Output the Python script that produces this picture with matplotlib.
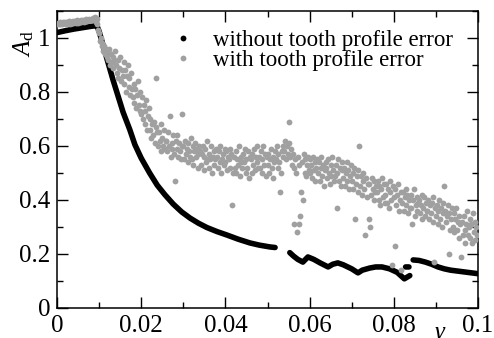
import numpy as np
import matplotlib
matplotlib.use('Agg')
from matplotlib import pyplot as plt
from matplotlib.lines import Line2D
from matplotlib.ticker import MultipleLocator

plt.rcParams['font.family'] = 'Liberation Serif'
plt.rcParams['mathtext.fontset'] = 'custom'
plt.rcParams['mathtext.rm'] = 'Liberation Serif'
plt.rcParams['mathtext.it'] = 'Liberation Serif:italic'

# without tooth profile error (nan = gap in the curve)
gamma_a = [0, 0.002, 0.004, 0.006, 0.008, 0.009, 0.0095, 0.0100, 0.0109, 0.0121,
           0.0133, 0.0145, 0.0157, 0.0173, 0.0185, 0.0200, 0.0220, 0.0238, 0.0256,
           0.0276, 0.0296, 0.0316, 0.0336, 0.0356, 0.038, 0.0404, 0.043, 0.0458,
           0.048, 0.0506, 0.0518, np.nan,
           0.0553, 0.0562, 0.0572, 0.0584, 0.0596, 0.061, 0.0625, 0.0644, 0.0655,
           0.0667, 0.068, 0.070, 0.0715, 0.0725, 0.0743, 0.0757, 0.0772, 0.079,
           0.0808, 0.0825, 0.0838, np.nan,
           0.0828, 0.0836, np.nan,
           0.0846, 0.086, 0.0875, 0.089, 0.0905, 0.092, 0.0935, 0.095, 0.097,
           0.099, 0.1]
ad_a = [1.02, 1.027, 1.033, 1.038, 1.043, 1.045, 1.044, 1.025, 0.975, 0.91,
        0.845, 0.785, 0.725, 0.66, 0.605, 0.555, 0.5, 0.455, 0.42,
        0.385, 0.356, 0.333, 0.314, 0.298, 0.283, 0.27, 0.255, 0.241,
        0.233, 0.226, 0.224, np.nan,
        0.205, 0.192, 0.18, 0.17, 0.189, 0.18, 0.167, 0.152, 0.162,
        0.167, 0.16, 0.145, 0.13, 0.14, 0.148, 0.152, 0.152, 0.145,
        0.132, 0.108, 0.12, np.nan,
        0.152, 0.152, np.nan,
        0.178, 0.176, 0.17, 0.162, 0.152, 0.145, 0.14, 0.137, 0.133,
        0.129, 0.127]

# with tooth profile error, sampled every 0.0002 in gamma (10 values per row)
ad_b = [
    1.05, 1.055, 1.05, 1.06, 1.052, 1.056, 1.05, 1.058, 1.054, 1.06,
    1.056, 1.05, 1.06, 1.055, 1.062, 1.052, 1.058, 1.06, 1.055, 1.063,
    1.058, 1.062, 1.055, 1.06, 1.065, 1.057, 1.062, 1.06, 1.066, 1.058,
    1.062, 1.066, 1.06, 1.068, 1.063, 1.07, 1.062, 1.066, 1.072, 1.065,
    1.068, 1.072, 1.066, 1.075, 1.07, 1.078, 1.06, 1.07, 1.05, 1.03,
    1.02, 0.99, 1.0, 0.97, 0.98, 0.95, 0.97, 0.94, 0.96, 0.93,
    0.95, 0.92, 0.96, 0.9, 0.94, 0.91, 0.93, 0.89, 0.92, 0.95,
    0.9, 0.87, 0.92, 0.85, 0.89, 0.93, 0.84, 0.88, 0.86, 0.91,
    0.83, 0.88, 0.8, 0.86, 0.9, 0.82, 0.85, 0.79, 0.87, 0.81,
    0.78, 0.83, 0.76, 0.81, 0.74, 0.79, 0.84, 0.75, 0.8, 0.73,
    0.72, 0.78, 0.7, 0.75, 0.68, 0.73, 0.77, 0.66, 0.71, 0.74,
    0.66, 0.7, 0.63, 0.68, 0.64, 0.69, 0.61, 0.85, 0.67, 0.65,
    0.6, 0.65, 0.62, 0.68, 0.58, 0.63, 0.6, 0.66, 0.59, 0.62,
    0.62, 0.58, 0.65, 0.6, 0.71, 0.56, 0.61, 0.59, 0.64, 0.57,
    0.47, 0.62, 0.59, 0.64, 0.56, 0.61, 0.58, 0.55, 0.6, 0.72,
    0.6, 0.55, 0.62, 0.57, 0.59, 0.54, 0.61, 0.58, 0.56, 0.63,
    0.55, 0.6, 0.53, 0.58, 0.61, 0.56, 0.59, 0.52, 0.57, 0.6,
    0.58, 0.53, 0.57, 0.6, 0.51, 0.56, 0.59, 0.54, 0.62, 0.55,
    0.52, 0.57, 0.55, 0.6, 0.5, 0.56, 0.53, 0.58, 0.55, 0.59,
    0.56, 0.52, 0.58, 0.54, 0.6, 0.5, 0.55, 0.57, 0.53, 0.59,
    0.54, 0.58, 0.51, 0.56, 0.55, 0.59, 0.52, 0.57, 0.38, 0.5,
    0.56, 0.52, 0.58, 0.5, 0.55, 0.53, 0.6, 0.49, 0.56, 0.54,
    0.52, 0.57, 0.54, 0.59, 0.5, 0.55, 0.52, 0.58, 0.48, 0.56,
    0.55, 0.5, 0.57, 0.53, 0.59, 0.51, 0.56, 0.54, 0.6, 0.52,
    0.56, 0.52, 0.58, 0.5, 0.55, 0.6, 0.53, 0.57, 0.49, 0.56,
    0.53, 0.57, 0.5, 0.55, 0.59, 0.52, 0.56, 0.48, 0.54, 0.58,
    0.55, 0.6, 0.52, 0.57, 0.54, 0.43, 0.5, 0.58, 0.56, 0.6,
    0.58, 0.62, 0.55, 0.6, 0.57, 0.69, 0.61, 0.56, 0.59, 0.53,
    0.57, 0.52, 0.31, 0.55, 0.5, 0.28, 0.56, 0.31, 0.53, 0.34,
    0.43, 0.54, 0.4, 0.57, 0.5, 0.55, 0.49, 0.53, 0.56, 0.51,
    0.55, 0.5, 0.53, 0.48, 0.56, 0.51, 0.54, 0.47, 0.52, 0.55,
    0.5, 0.54, 0.47, 0.52, 0.56, 0.49, 0.53, 0.45, 0.51, 0.54,
    0.52, 0.48, 0.55, 0.5, 0.46, 0.53, 0.49, 0.56, 0.51, 0.47,
    0.49, 0.53, 0.37, 0.5, 0.55, 0.47, 0.52, 0.45, 0.51, 0.54,
    0.48, 0.52, 0.45, 0.5, 0.54, 0.47, 0.51, 0.44, 0.49, 0.53,
    0.47, 0.5, 0.44, 0.52, 0.33, 0.46, 0.49, 0.43, 0.51, 0.6,
    0.45, 0.49, 0.42, 0.47, 0.5, 0.44, 0.27, 0.48, 0.41, 0.46,
    0.33, 0.46, 0.3, 0.42, 0.48, 0.44, 0.4, 0.47, 0.43, 0.45,
    0.43, 0.47, 0.4, 0.45, 0.38, 0.44, 0.48, 0.41, 0.46, 0.39,
    0.42, 0.46, 0.39, 0.44, 0.37, 0.43, 0.47, 0.4, 0.16, 0.45,
    0.41, 0.23, 0.44, 0.38, 0.42, 0.46, 0.36, 0.4, 0.14, 0.43,
    0.39, 0.43, 0.36, 0.41, 0.44, 0.38, 0.42, 0.35, 0.4, 0.37,
    0.37, 0.42, 0.31, 0.4, 0.44, 0.34, 0.38, 0.41, 0.36, 0.39,
    0.4, 0.35, 0.38, 0.42, 0.33, 0.37, 0.41, 0.34, 0.39, 0.36,
    0.36, 0.4, 0.33, 0.38, 0.35, 0.39, 0.32, 0.41, 0.17, 0.37,
    0.34, 0.38, 0.31, 0.36, 0.4, 0.33, 0.37, 0.3, 0.35, 0.39,
    0.45, 0.36, 0.32, 0.34, 0.38, 0.2, 0.35, 0.29, 0.33, 0.37,
    0.3, 0.35, 0.28, 0.33, 0.37, 0.29, 0.32, 0.26, 0.34, 0.31,
    0.19, 0.32, 0.27, 0.34, 0.29, 0.24, 0.31, 0.36, 0.27, 0.3,
    0.33, 0.26, 0.31, 0.24, 0.35, 0.28, 0.32, 0.25, 0.3, 0.27,
]
gamma_b = np.arange(len(ad_b)) * 0.0002

x_ticks = [0, 0.02, 0.04, 0.06, 0.08, 0.1]
x_labels = ['0', '0.02', '0.04', '0.06', '0.08', '0.1']
y_ticks = [0, 0.2, 0.4, 0.6, 0.8, 1]
y_labels = ['0', '0.2', '0.4', '0.6', '0.8', '1']

black = 'black'
grey = '#a0a0a0'

fig = plt.figure(figsize=(4.94, 3.38), dpi=100)
ax = fig.add_axes([0.1154, 0.0888, 0.8522, 0.8787])

ax.plot(gamma_a, ad_a, color=black, lw=4, solid_capstyle='round',
        solid_joinstyle='round', zorder=2)
ax.plot(gamma_b, ad_b, 'o', color=grey, ms=4.2, mew=0, zorder=3)

ax.set_xlim(0, 0.1)
ax.set_ylim(0, 1.1)
ax.set_xticks(x_ticks)
ax.set_xticklabels(x_labels)
ax.set_yticks(y_ticks)
ax.set_yticklabels(y_labels)
ax.xaxis.set_minor_locator(MultipleLocator(0.01))
ax.yaxis.set_minor_locator(MultipleLocator(0.1))
ax.tick_params(which='both', direction='in', top=True, right=True, width=1,
               labelsize=18)
ax.tick_params(which='major', length=8, pad=5)
ax.tick_params(which='minor', length=4.5)
for s in ax.spines.values():
    s.set_linewidth(1.1)

ax.set_xlabel(r'$\gamma$', fontsize=18)
ax.xaxis.set_label_coords(0.91, -0.055)
ax.set_ylabel(r'$A_{\rm d}$', fontsize=18)
ax.yaxis.set_label_coords(-0.05, 0.89)

handles = [Line2D([], [], ls='none', marker='o', ms=4.2, mew=0, color=black),
           Line2D([], [], ls='none', marker='o', ms=4.2, mew=0, color=grey)]
ax.legend(handles, ['without tooth profile error', 'with tooth profile error'],
          loc='upper left', bbox_to_anchor=(0.272, 0.935), frameon=False,
          fontsize=16.5, handlelength=1, handletextpad=0.8, labelspacing=-0.05,
          borderpad=0, borderaxespad=0)

fig.savefig('out.png', dpi=100)
